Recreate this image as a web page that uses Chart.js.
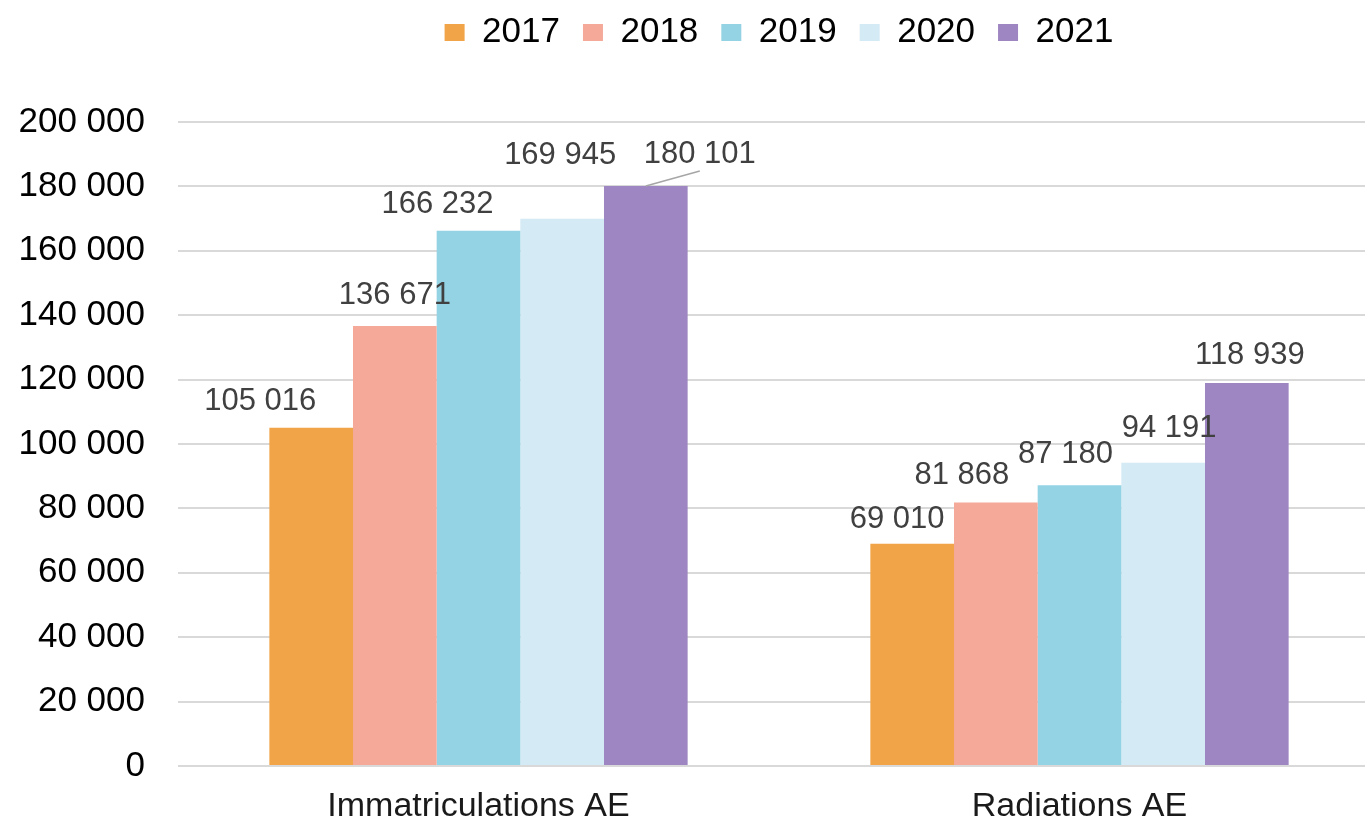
<!DOCTYPE html>
<html>
<head>
<meta charset="utf-8">
<script src="https://cdn.jsdelivr.net/npm/chart.js@4.4.0/dist/chart.umd.min.js"></script>
<style>
    html, body { margin: 0; padding: 0; background: #fff; overflow: hidden; }
    #wrap { width: 1382px; height: 822px; }
</style>
</head>
<body>
<div id="wrap"><canvas id="chart"></canvas></div>
<script>
// ================= DATA =================
const categories = ['Immatriculations AE', 'Radiations AE'];
const years = ['2017', '2018', '2019', '2020', '2021'];
const values2017 = [105016, 69010];
const values2018 = [136671, 81868];
const values2019 = [166232, 87180];
const values2020 = [169945, 94191];
const values2021 = [180101, 118939];
const yTicks = [0, 20000, 40000, 60000, 80000, 100000, 120000, 140000, 160000, 180000, 200000];

// styling
const barColors = ['#F2A448', '#F4A999', '#93D3E4', '#D4EAF4', '#9E86C2'];
// label offsets from bar top centre (px), per year then per category
const labelDx = [[-51, -15], [0, -34], [-41, -14], [-2, 6], [54, 3]];
const labelDy = [[-26, -24], [-30, -27], [-26, -31], [-63, -34], [-32, -28]];

const allValues = [values2017, values2018, values2019, values2020, values2021];
const FONT = '"Liberation Sans", Arial, sans-serif';

// number format "105 016"
function fmt(v) {
    return String(v).replace(/\B(?=(\d{3})+(?!\d))/g, ' ');
}

// value labels drawn above bars
const valueLabels = {
    id: 'valueLabels',
    afterLayout(chart) {
        // legend sits higher than chart.js puts it
        const h = chart.legend.height;
        chart.legend.top = -8;
        chart.legend.bottom = chart.legend.top + h;
    },
    afterDatasetsDraw(chart) {
        const ctx = chart.ctx;
        ctx.save();
        ctx.font = '31px ' + FONT;
        ctx.fillStyle = '#404040';
        ctx.textAlign = 'center';
        ctx.textBaseline = 'middle';
        chart.data.datasets.forEach((ds, di) => {
            const meta = chart.getDatasetMeta(di);
            meta.data.forEach((bar, i) => {
                const lx = bar.x + labelDx[di][i];
                const ly = bar.y + labelDy[di][i];
                ctx.fillText(fmt(ds.data[i]), lx, ly);
                // leader line for the 2021 Immatriculations label
                if (di === 4 && i === 0) {
                    ctx.strokeStyle = '#a6a6a6';
                    ctx.lineWidth = 1.5;
                    ctx.beginPath();
                    ctx.moveTo(bar.x, bar.y);
                    ctx.lineTo(lx, ly + 17);
                    ctx.stroke();
                }
            });
        });
        ctx.restore();
    }
};

new Chart(document.getElementById('chart'), {
    type: 'bar',
    data: {
        labels: categories,
        datasets: years.map((y, i) => ({
            label: y,
            data: allValues[i],
            backgroundColor: barColors[i],
            borderWidth: 0,
            categoryPercentage: 0.696,
            barPercentage: 1.0
        }))
    },
    options: {
        responsive: true,
        maintainAspectRatio: false,
        animation: false,
        layout: { padding: { left: 15, right: 2, top: 54, bottom: 0 } },
        plugins: {
            legend: {
                position: 'top',
                fullSize: false,
                labels: {
                    boxWidth: 20,
                    boxHeight: 17,
                    padding: 23,
                    color: '#000',
                    font: { family: FONT, size: 35 }
                }
            },
            tooltip: { enabled: false }
        },
        scales: {
            x: {
                grid: { display: false },
                border: { display: false },
                afterFit: (scale) => { scale.height = 56; },
                ticks: {
                    color: '#1a1a1a',
                    padding: 12,
                    font: { family: FONT, size: 34 }
                }
            },
            y: {
                min: 0,
                max: 200000,
                afterBuildTicks: (axis) => { axis.ticks = yTicks.map(v => ({ value: v })); },
                afterFit: (scale) => { scale.width = 163; },
                grid: { color: '#d9d9d9', lineWidth: 2, drawTicks: false },
                border: { display: false },
                ticks: {
                    color: '#000',
                    padding: 33,
                    font: { family: FONT, size: 35 },
                    callback: (v) => fmt(v)
                }
            }
        }
    },
    plugins: [valueLabels]
});
</script>
</body>
</html>
